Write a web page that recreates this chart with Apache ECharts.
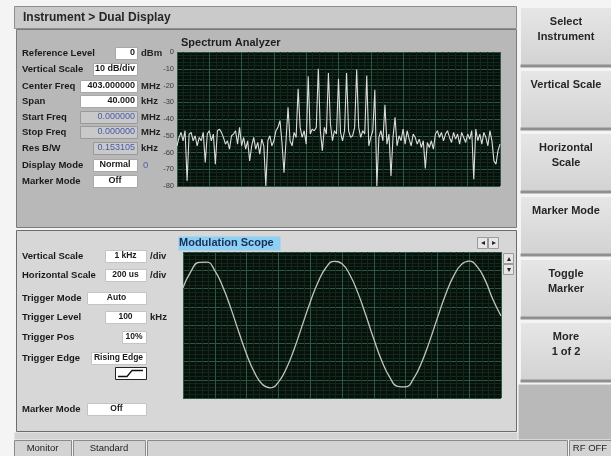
<!DOCTYPE html>
<html>
<head>
<meta charset="utf-8">
<script src="https://cdn.jsdelivr.net/npm/echarts@6/dist/echarts.min.js"></script>
<style>
html, body { margin: 0; padding: 0; background: #f4f4f4; }
#main { width: 611px; height: 456px; }
</style>
</head>
<body>
<div id="main"></div>
<script>
// spectrum analyzer trace, dBm, 161 points over the 40 kHz span
var specOffsetStart = -20, specStep = 0.25;
var specLevels = [
  -56, -51, -48, -53, -47, -77, -49, -48, -53, -50,
  -56, -51, -53, -48, -66, -49, -47, -53, -49, -67,
  -47, -46, -48, -51, -55, -53, -58, -50, -49, -47,
  -55, -45, -56, -51, -58, -53, -65, -56, -51, -58,
  -54, -61, -52, -56, -80, -53, -50, -56, -53, -47,
  -45, -41, -54, -72, -53, -33, -53, -56, -48, -51,
  -22, -45, -51, -47, -55, -14.5, -49, -46, -47, -45,
  -10, -47, -59, -45, -49, -12.5, -43, -53, -47, -49,
  -16, -48, -53, -47, -12.5, -47, -51, -50, -45, -10.5,
  -45, -51, -47, -49, -14, -56, -51, -47, -22.5, -80,
  -51, -47, -53, -31.5, -55, -49, -74, -51, -39, -56,
  -50, -53, -46, -55, -47, -52, -56, -49, -51, -55,
  -52, -57, -53, -69.5, -54, -57, -53, -58, -49, -47,
  -51, -48, -53, -49, -47, -51, -54, -48, -52, -49,
  -55, -48, -51, -54, -49, -52, -47, -76, -46, -53,
  -49, -55, -48, -51, -56, -47, -53, -65, -67, -59,
  -55
];
var specTicks = [0, -10, -20, -30, -40, -50, -60, -70, -80];

// modulation scope trace, kHz deviation sampled every 50 us
var scopeStep = 50;
var scopeValues = [
  2.04, 2.94, 3.43, 3.45, 2.98, 2.10, 0.94, -0.36, -1.60, -2.61,
  -3.26, -3.44, -3.13, -2.38, -1.30, -0.02, 1.25, 2.36, 3.15, 3.49,
  3.35, 2.74, 1.76, 0.53, -0.77, -1.96, -2.86, -3.36, -3.39, -2.94,
  -2.07, -0.91, 0.39, 1.63, 2.65, 3.31, 3.50, 3.20, 2.46, 1.38,
  0.50
];

// panel texts
var specFields = [
  ['Reference Level', '0', 'dBm'],
  ['Vertical Scale', '10 dB/div', ''],
  ['Center Freq', '403.000000', 'MHz'],
  ['Span', '40.000', 'kHz'],
  ['Start Freq', '0.000000', 'MHz'],
  ['Stop Freq', '0.000000', 'MHz'],
  ['Res B/W', '0.153105', 'kHz'],
  ['Display Mode', 'Normal', '0'],
  ['Marker Mode', 'Off', '']
];
var scopeFields = [
  ['Vertical Scale', '1 kHz', '/div'],
  ['Horizontal Scale', '200 us', '/div'],
  ['Trigger Mode', 'Auto', ''],
  ['Trigger Level', '100', 'kHz'],
  ['Trigger Pos', '10%', ''],
  ['Trigger Edge', 'Rising Edge', ''],
  ['Marker Mode', 'Off', '']
];
var softKeys = [
  ['Select', 'Instrument'],
  ['Vertical Scale'],
  ['Horizontal', 'Scale'],
  ['Marker Mode'],
  ['Toggle', 'Marker'],
  ['More', '1 of 2']
];
var statusItems = ['Monitor', 'Standard', '', 'RF OFF'];

var FONT = '"Liberation Sans", Arial, sans-serif';
var majorGrid = '#2c5745', minorGrid = '#13271d', plotBg = '#07110c';

function box(x, y, w, h, fill, stroke, z) {
  return { type: 'rect', silent: true, z: z || 0,
    shape: { x: x + 0.5, y: y + 0.5, width: w, height: h },
    style: { fill: fill, stroke: stroke || null, lineWidth: 1 } };
}
function txt(x, y, s, font, color, align) {
  return { type: 'text', silent: true, z: 20, x: x, y: y,
    style: { text: s, font: font, fill: color || '#1e1e1e',
      align: align || 'left', verticalAlign: 'middle',
      textAlign: align || 'left', textVerticalAlign: 'middle' } };
}

var G = [];
// frame
G.push(box(14, 6, 502, 22, '#cacaca', '#8e8e8e'));
G.push(txt(23, 18, 'Instrument > Dual Display', 'bold 12px ' + FONT, '#262626'));
G.push(box(16, 29, 500, 198, '#b8b8b8', '#7a7a7a'));
G.push(box(16, 230, 500, 201, '#d7d7d7', '#6c6c6c'));
G.push(box(14, 432, 503, 7, '#d2d2d2', null));
G.push(box(518, 384, 93, 55, '#b9b9b9', null));

// spectrum settings column
var specRows = [53, 69, 86, 101, 117, 132, 148, 165, 181];
var specBoxX = [115, 93, 80, 80, 80, 80, 93, 93, 93];
specFields.forEach(function (f, i) {
  var y = specRows[i];
  var grey = (i >= 4 && i <= 6);
  G.push(txt(22, y, f[0], 'bold 9.5px ' + FONT, '#1a1a1a'));
  G.push(box(specBoxX[i], y - 6, 137 - specBoxX[i], 12, grey ? '#c9c9c9' : '#ffffff', grey ? '#9a9a9a' : '#a8a8a8'));
  var right = (i === 0 || (i >= 2 && i <= 6));
  G.push(txt(right ? 135 : (specBoxX[i] + 137) / 2, y, f[1], (grey ? '' : 'bold ') + '9px ' + FONT,
    grey ? '#4a5aa8' : '#1a1a1a', right ? 'right' : 'center'));
  if (f[2]) G.push(txt(i === 7 ? 143 : 141, y, f[2], (i === 7 ? '' : 'bold ') + '9.5px ' + FONT, i === 7 ? '#5060b0' : '#222'));
});
G.push(txt(181, 43, 'Spectrum Analyzer', 'bold 11px ' + FONT, '#1e1e1e'));

// scope settings column
var scopeRows = [256, 275, 298, 317, 337, 358, 409];
var scopeBoxX = [105, 105, 87, 105, 122, 91, 87];
scopeFields.forEach(function (f, i) {
  var y = scopeRows[i];
  G.push(txt(22, y, f[0], 'bold 9.5px ' + FONT, '#1a1a1a'));
  G.push(box(scopeBoxX[i], y - 6, 146 - scopeBoxX[i], 12, '#ffffff', '#c4c4c4'));
  G.push(txt((scopeBoxX[i] + 146) / 2, y, f[1], 'bold 8.5px ' + FONT, '#1a1a1a', 'center'));
  if (f[2]) G.push(txt(150, y, f[2], 'bold 9.5px ' + FONT, '#222'));
});
// rising edge icon
G.push(box(115, 367, 31, 12, '#ffffff', '#222'));
G.push({ type: 'polyline', silent: true, z: 21,
  shape: { points: [[118, 376.5], [127, 376.5], [132, 370.5], [143, 370.5]] },
  style: { stroke: '#111', lineWidth: 1.3, fill: null } });

// modulation scope title and scroll arrows
G.push(box(178, 236, 102, 14, '#8ecff4', null));
G.push(txt(179, 243, 'Modulation Scope', 'bold 11px ' + FONT, '#17305a'));
G.push(box(477, 237, 10, 11, '#e6e6e6', '#9a9a9a'));
G.push(box(488, 237, 10, 11, '#e6e6e6', '#9a9a9a'));
G.push(txt(482.5, 243, '\u25C2', '8px ' + FONT, '#222', 'center'));
G.push(txt(493.5, 243, '\u25B8', '8px ' + FONT, '#222', 'center'));
G.push(box(503, 253, 10, 10, '#e6e6e6', '#9a9a9a'));
G.push(box(503, 264, 10, 10, '#e6e6e6', '#9a9a9a'));
G.push(txt(508.5, 258.5, '\u25B4', '8px ' + FONT, '#222', 'center'));
G.push(txt(508.5, 269.5, '\u25BE', '8px ' + FONT, '#222', 'center'));

// soft keys on the right
var keyTops = [8, 71, 134, 197, 260, 323];
softKeys.forEach(function (k, i) {
  var t = keyTops[i];
  G.push({ type: 'rect', silent: true, z: 0,
    shape: { x: 521, y: t, width: 90, height: 59 },
    style: { fill: new echarts.graphic.LinearGradient(0, 0, 0, 1,
      [{ offset: 0, color: '#e6e6e6' }, { offset: 1, color: '#d2d2d2' }]) } });
  G.push(box(520, t + 56, 91, 3, '#8f8f8f', null));
  k.forEach(function (line, j) {
    G.push(txt(566, t + 14 + j * 15, line, 'bold 11px ' + FONT, '#262626', 'center'));
  });
});

// status bar
var statusX = [14, 73, 147, 569], statusW = [57, 72, 420, 42];
statusItems.forEach(function (s, i) {
  G.push(box(statusX[i], 440, statusW[i], 16, '#d3d3d3', '#8a8a8a'));
  if (s) G.push(txt(statusX[i] + statusW[i] / 2, 448, s, '9.5px ' + FONT, '#222', 'center'));
});

var chart = echarts.init(document.getElementById('main'));

function axisBase(min, max, interval, gridIndex) {
  return {
    type: 'value', gridIndex: gridIndex, min: min, max: max, interval: interval, z: 3,
    axisLine: { show: false }, axisTick: { show: false }, axisLabel: { show: false },
    splitLine: { show: true, lineStyle: { color: majorGrid, width: 1 } },
    minorTick: { show: false, splitNumber: 5 },
    minorSplitLine: { show: true, lineStyle: { color: minorGrid, width: 1 } }
  };
}

var specY = axisBase(specTicks[specTicks.length - 1], specTicks[0], 10, 0);
specY.axisLabel = { show: true, margin: 3, fontSize: 7.5, color: '#3a3a3a', fontFamily: FONT };

chart.setOption({
  animation: false,
  graphic: { elements: G },
  grid: [
    { left: 177, top: 52, width: 323, height: 134, show: true, backgroundColor: plotBg, borderWidth: 0, z: 2 },
    { left: 183, top: 252, width: 318, height: 146, show: true, backgroundColor: plotBg, borderWidth: 0, z: 2 }
  ],
  xAxis: [
    axisBase(-20, 20, 4, 0),
    axisBase(0, 2000, 200, 1)
  ],
  yAxis: [
    specY,
    axisBase(-4, 4, 1, 1)
  ],
  series: [
    {
      type: 'line', xAxisIndex: 0, yAxisIndex: 0, z: 5, silent: true,
      showSymbol: false, symbol: 'none',
      data: specLevels.map(function (v, i) { return [specOffsetStart + i * specStep, v]; }),
      lineStyle: { color: '#dcdcdc', width: 1.1 }
    },
    {
      type: 'line', xAxisIndex: 1, yAxisIndex: 1, z: 5, silent: true,
      showSymbol: false, symbol: 'none', smooth: true,
      data: scopeValues.map(function (v, i) { return [i * scopeStep, v]; }),
      lineStyle: { color: '#c2c5bd', width: 1.3 }
    }
  ]
});
</script>
</body>
</html>
